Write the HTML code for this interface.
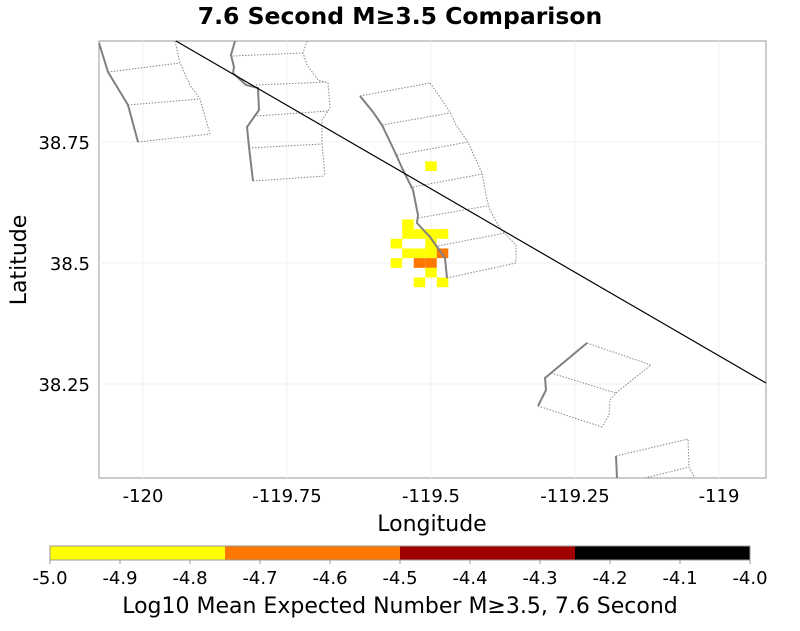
<!DOCTYPE html>
<html><head><meta charset="utf-8"><style>
body{margin:0;background:#fff;width:800px;height:626px;overflow:hidden}
svg{font-family:"DejaVu Sans","Liberation Sans",sans-serif}
</style></head><body>
<svg id="c" width="800" height="626" viewBox="0 0 800 626">
<text x="400" y="24" text-anchor="middle" font-size="23.5" font-weight="bold">7.6 Second M≥3.5 Comparison</text>
<rect x="99" y="41" width="667" height="437" fill="#fff" stroke="#999" stroke-width="1"/>
<g id="grid"></g>
<g id="cells"></g>
<g fill="none">
<g stroke="#888" stroke-width="1" stroke-dasharray="1.5,1.5">
<path d="M108,72 L180,63 M128,105 L200,99 M138,142 L210,134 M175,41 L180,63 L190,85 L200,99 L210,134"/>
<path d="M233,56 L303,53 M256,85 L327,82 M257,116 L328,111 M249,148 L322,144 M253,181 L325,176 M307,41 L303,53 L307,65 L318,80 L328,83 L330,108 L322,120 L322,144 L325,176"/>
<path d="M360,96 L430,83 M382,125 L450,113 M397,155 L468,142 M413,187 L482,174 M418,218 L487,206 M438,246 L505,233 M447,278 L516,263 M430,83 L440,97 L450,112 L456,125 L468,142 L475,158 L482,173 L487,200 L490,210 L498,225 L505,234 L516,245 L516,263"/>
<path d="M551,373 L616,393 M587,343 L651,365 L616,393 L610,400 L609,415 L602,427 M538,406 L602,427"/>
<path d="M616,456 L688,439 L689,467 L695,478 M645,478 L689,467"/>
</g>
<g stroke="#808080" stroke-width="2">
<path d="M99,43 L108,72 L128,105 L138,142"/>
<path d="M235,41 L231,55 L234,67 L233,73 L246,85 L258,88 L259,110 L247,127 L249,147 L253,181"/>
<path d="M360,96 L373,112 L382,125 L393,148 L403,170 L413,190 L418,215 L417,223 L430,237 L445,258 L447,278"/>
<path d="M587,343 L551,373 L545,378 L546,390 L538,406"/>
<path d="M616,456 L617,478"/>
</g>
</g>
<line x1="176" y1="41" x2="766" y2="383" stroke="#000" stroke-width="1.2"/>
<g id="axes" font-size="18"></g>
<text x="432" y="531" text-anchor="middle" font-size="22">Longitude</text>
<text transform="translate(26,260) rotate(-90)" text-anchor="middle" font-size="22">Latitude</text>
<g id="cbar"></g>
<text x="400" y="613" text-anchor="middle" font-size="22">Log10 Mean Expected Number M≥3.5, 7.6 Second</text>
</svg>
<script>
const xTicks=[-120,-119.75,-119.5,-119.25,-119];
const xTickLabels=["-120","-119.75","-119.5","-119.25","-119"];
const yTicks=[38.75,38.5,38.25];
const yTickLabels=["38.75","38.5","38.25"];
const cellLon=[-119.55,-119.55,-119.53,-119.51,-119.49,-119.57,-119.51,-119.55,-119.53,-119.51,-119.49,-119.57,-119.53,-119.51,-119.51,-119.53,-119.49,-119.51];
const cellLat=[38.57,38.55,38.55,38.55,38.55,38.53,38.53,38.51,38.51,38.51,38.51,38.49,38.49,38.49,38.47,38.45,38.45,38.69];
const cellVal=[-4.9,-4.9,-4.9,-4.9,-4.9,-4.9,-4.9,-4.9,-4.9,-4.9,-4.6,-4.9,-4.6,-4.6,-4.9,-4.9,-4.9,-4.9];
const cbarTicks=[-5.0,-4.9,-4.8,-4.7,-4.6,-4.5,-4.4,-4.3,-4.2,-4.1,-4.0];
const cbarBounds=[-5.0,-4.75,-4.5,-4.25,-4.0];
const cbarColors=["#ffff00","#ff7700","#a00000","#000000"];
const cellSize=0.02;
const NS="http://www.w3.org/2000/svg";
const xs=v=>143+(v+120)*576;
const ys=v=>263-(v-38.5)*484;
const cs=v=>50+(v+5)*700;
function mk(t,a,p){const e=document.createElementNS(NS,t);for(const k in a)e.setAttribute(k,a[k]);p.appendChild(e);return e;}
function colorFor(v){for(let i=0;i<cbarColors.length;i++){if(v<cbarBounds[i+1])return cbarColors[i];}return cbarColors[cbarColors.length-1];}
const grid=document.getElementById('grid'),axes=document.getElementById('axes'),cells=document.getElementById('cells'),cbar=document.getElementById('cbar');
xTicks.forEach((t,i)=>{
 const g=mk('line',{x1:xs(t),x2:xs(t),y1:41,y2:478,stroke:'#f2f2f2'},grid);
 
 
 const l=mk('text',{x:xs(t),y:502,'text-anchor':'middle'},axes);l.textContent=xTickLabels[i];
 
 
});
yTicks.forEach((t,i)=>{
 const g=mk('line',{x1:99,x2:766,y1:ys(t),y2:ys(t),stroke:'#f2f2f2'},grid);
 
 
 const l=mk('text',{x:90,y:ys(t)+7,'text-anchor':'end'},axes);l.textContent=yTickLabels[i];
 
 
});
cellLon.forEach((lo,i)=>{
 const x0=xs(lo),x1=xs(lo+cellSize),y0=ys(cellLat[i]+cellSize),y1=ys(cellLat[i]);
 const r=mk('rect',{x:x0,y:y0,width:x1-x0,height:y1-y0,fill:colorFor(cellVal[i])},cells);
 
 
});
cbarColors.forEach((c,i)=>{
 const r=mk('rect',{x:cs(cbarBounds[i]),y:546,width:cs(cbarBounds[i+1])-cs(cbarBounds[i]),height:14,fill:c},cbar);
 
 
});
mk('rect',{x:50,y:546,width:700,height:14,fill:'none',stroke:'#999'},cbar);
cbarTicks.forEach(t=>{
 mk('line',{x1:cs(t),x2:cs(t),y1:560,y2:564,stroke:'#999'},cbar);
 const l=mk('text',{x:cs(t),y:584,'text-anchor':'middle','font-size':18},cbar);l.textContent=t.toFixed(1);
 
 
});
</script>
</body></html>
